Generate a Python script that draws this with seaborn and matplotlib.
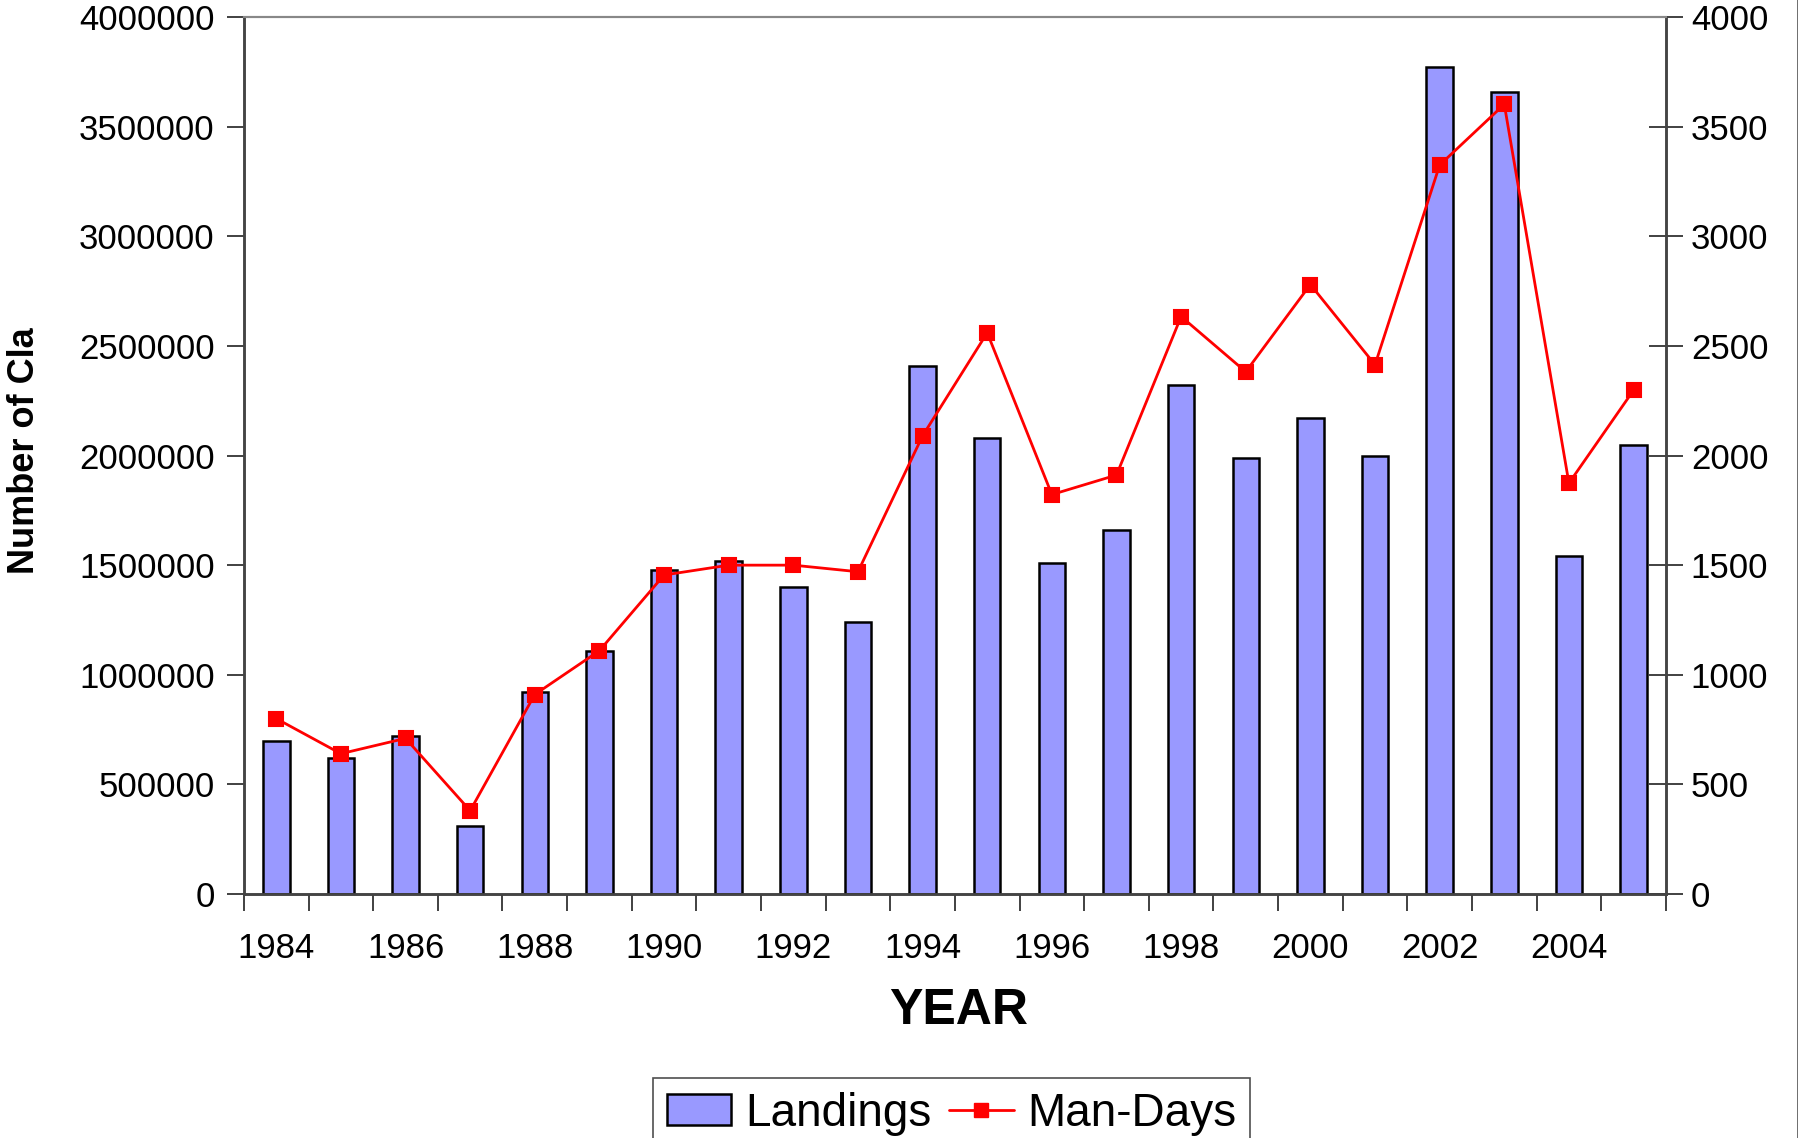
import numpy as np
import pandas as pd
import matplotlib
matplotlib.use("Agg")
import matplotlib.pyplot as plt
from matplotlib.patches import Patch
from matplotlib.lines import Line2D
from matplotlib.ticker import FixedLocator
import seaborn as sns

# data
years = list(range(1984, 2006))
landings = [700000, 620000, 720000, 310000, 920000, 1110000, 1480000, 1520000,
            1400000, 1240000, 2410000, 2080000, 1510000, 1660000, 2320000, 1990000,
            2170000, 2000000, 3770000, 3660000, 1540000, 2050000]
man_days = [800, 640, 710, 380, 910, 1110, 1455, 1500, 1500, 1470, 2090, 2560,
            1822, 1911, 2634, 2382, 2780, 2414, 3325, 3602, 1874, 2298]
left_ticks = [0, 500000, 1000000, 1500000, 2000000, 2500000, 3000000, 3500000, 4000000]
right_ticks = [0, 500, 1000, 1500, 2000, 2500, 3000, 3500, 4000]

df = pd.DataFrame({"year": [str(y) for y in years],
                   "landings": landings, "man_days": man_days})

sns.set_theme(style="white")
plt.rcParams["font.family"] = ["Liberation Sans", "DejaVu Sans"]
plt.rcParams["text.color"] = "black"
plt.rcParams["xtick.color"] = "black"
plt.rcParams["ytick.color"] = "black"

BAR = "#9999FF"
RED = "#FF0000"

fig = plt.figure(figsize=(17.99, 11.38), dpi=100)
ax = fig.add_axes([0.1356, 0.2144, 0.926 - 0.1356, 0.985 - 0.2144])

sns.barplot(data=df, x="year", y="landings", ax=ax, color=BAR, saturation=1,
            width=0.41, edgecolor="black", linewidth=1.8)

ax2 = ax.twinx()
sns.pointplot(data=df, x="year", y="man_days", ax=ax2, color=RED, markers="s",
              linestyles="-", markersize=10, linewidth=2, errorbar=None)

n = len(years)
ax.set_xlim(-0.5, n - 0.5)
ax.set_ylim(0, 4000000)
ax2.set_ylim(0, 4000)

ax.set_yticks(left_ticks)
ax.set_yticklabels([str(t) for t in left_ticks])
ax2.set_yticks(right_ticks)
ax2.set_yticklabels([str(t) for t in right_ticks])

ax2.tick_params(axis="x", which="both", bottom=False, top=False,
                labelbottom=False)

idx = np.arange(n)
ax.xaxis.set_major_locator(FixedLocator(idx[::2]))
ax.set_xticklabels([str(y) for y in years[::2]])
ax.xaxis.set_minor_locator(FixedLocator(np.arange(n + 1) - 0.5))
ax.tick_params(axis="x", which="major", length=0, pad=27, labelsize=25,
               bottom=True, labelbottom=True)
ax.tick_params(axis="x", which="minor", length=12, width=1.3, color="#333333",
               direction="out", bottom=True)
ax.tick_params(axis="y", length=12, width=1.3, color="#333333", direction="out",
               left=True, pad=9, labelsize=25)
ax2.tick_params(axis="y", length=24, width=1.3, color="#333333", direction="inout",
                right=True, pad=6, labelsize=25)

ax.set_xlabel("")
ax.set_ylabel("")
ax2.set_xlabel("")
ax2.set_ylabel("")

for a in (ax, ax2):
    for side in ("left", "bottom", "right"):
        a.spines[side].set_color("#444444")
        a.spines[side].set_linewidth(1.8)
    a.spines["top"].set_color("#888888")
    a.spines["top"].set_linewidth(1.5)
ax.spines["bottom"].set_color("#333333")

fig.text(0.533, 0.1116, "YEAR", ha="center", va="center", fontsize=36,
         fontweight="bold")
fig.text(0.0135, 1 - 574 / 1138, "Number of Cla", rotation=90, ha="center",
         va="bottom", fontsize=26, fontweight="bold")

handles = [Patch(facecolor=BAR, edgecolor="black", linewidth=1.8, label="Landings"),
           Line2D([], [], color=RED, marker="s", markersize=10, linewidth=2,
                  label="Man-Days")]
leg = fig.legend(handles=handles, loc="upper center", ncol=2,
                 bbox_to_anchor=(0.529, 1 - 1078 / 1138), fontsize=33,
                 frameon=True, fancybox=False, handlelength=1.4,
                 handleheight=0.65, handletextpad=0.3, columnspacing=0.4,
                 borderpad=0.3, borderaxespad=0)
leg.get_frame().set_edgecolor("#222222")
leg.get_frame().set_linewidth(1.2)

fig.add_artist(Line2D([0.9995, 0.9995], [0, 1], color="#555555", linewidth=1.2,
                      transform=fig.transFigure))

fig.savefig("out.png", dpi=100)
